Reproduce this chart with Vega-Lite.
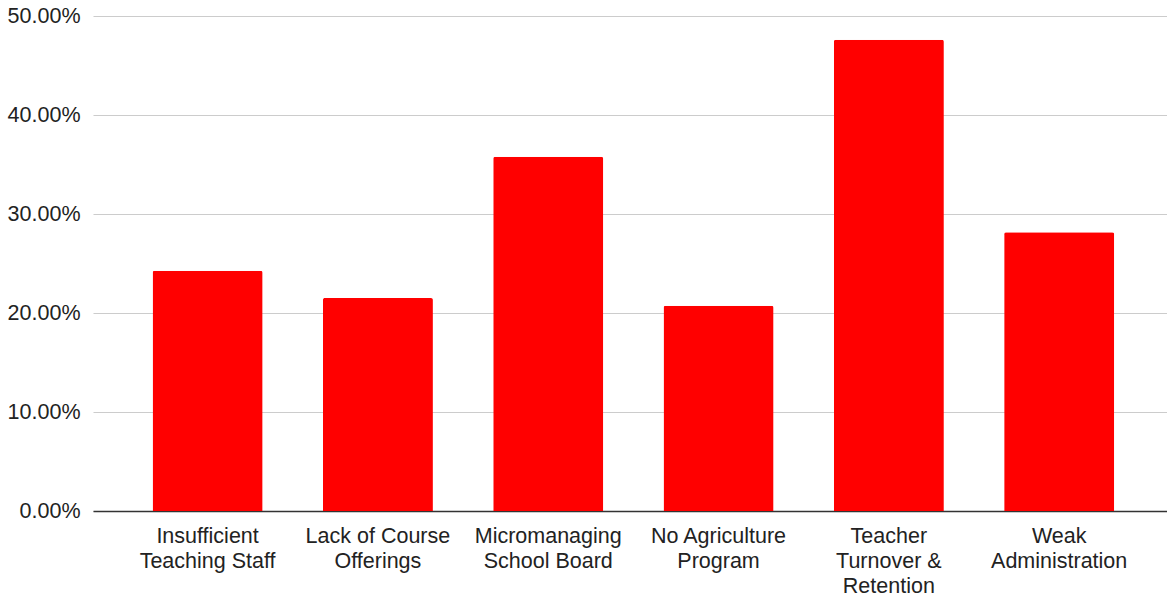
{
  "$schema": "https://vega.github.io/schema/vega-lite/v6.json",
  "autosize": "none",
  "padding": {"left": 93, "top": 16, "right": 0, "bottom": 90},
  "width": 1074,
  "height": 495,
  "background": "#ffffff",
  "data": {
    "values": [
      {"reason": "Insufficient\nTeaching Staff", "share": 0.2426},
      {"reason": "Lack of Course\nOfferings", "share": 0.2151},
      {"reason": "Micromanaging\nSchool Board", "share": 0.3578},
      {"reason": "No Agriculture\nProgram", "share": 0.2074},
      {"reason": "Teacher\nTurnover &\nRetention", "share": 0.4761},
      {"reason": "Weak\nAdministration", "share": 0.2816}
    ]
  },
  "mark": {
    "type": "bar",
    "color": "#ff0000",
    "cornerRadiusTopLeft": 2,
    "cornerRadiusTopRight": 2
  },
  "encoding": {
    "x": {
      "field": "reason",
      "type": "nominal",
      "sort": null,
      "title": null,
      "scale": {"paddingInner": 0.354, "paddingOuter": 0.33, "align": 0.53},
      "axis": {
        "labelAngle": 0,
        "labelExpr": "split(datum.value, '\\n')",
        "labelFont": "Liberation Sans",
        "labelFontSize": 21.5,
        "labelLineHeight": 25,
        "labelColor": "#222222",
        "labelPadding": 14,
        "labelLimit": 0,
        "ticks": false,
        "domainColor": "#333333",
        "domainWidth": 1.5,
        "grid": false
      }
    },
    "y": {
      "field": "share",
      "type": "quantitative",
      "title": null,
      "scale": {"domain": [0, 0.5], "nice": false},
      "axis": {
        "values": [0, 0.1, 0.2, 0.3, 0.4, 0.5],
        "format": ".2%",
        "labelFont": "Liberation Sans",
        "labelFontSize": 21.5,
        "labelColor": "#222222",
        "labelPadding": 13,
        "ticks": false,
        "domain": false,
        "gridColor": "#cccccc",
        "gridWidth": 1.2
      }
    }
  },
  "config": {
    "view": {"stroke": null}
  }
}
